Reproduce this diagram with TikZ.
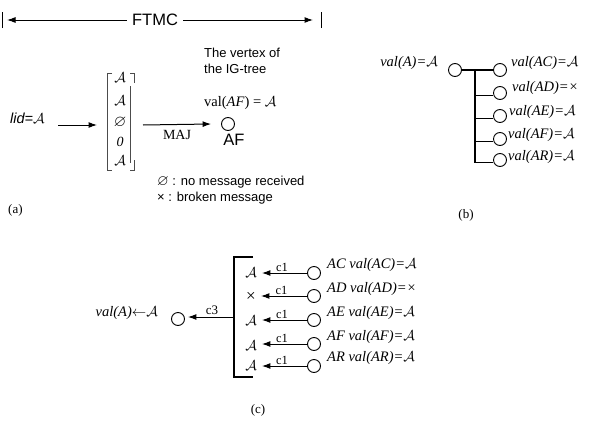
\documentclass[tikz,border=0pt]{standalone}
\usepackage{amssymb}
\usepackage{fontspec}
\setmainfont{Liberation Serif}
\newfontfamily\arialf{Liberation Sans}
\usetikzlibrary{arrows.meta}
\newcommand\calA{\ensuremath{\mathcal{A}}}
\begin{document}
\begin{tikzpicture}[x=1pt,y=-1pt,
  vert/.style={circle,draw,line width=0.9pt,minimum size=13pt,inner sep=0pt},
  arr/.style={-{Latex[length=8.5pt,width=6pt]},line width=1pt},
  sans/.style={font=\arialf\fontsize{13}{15.5}\selectfont,inner sep=0pt},
  lab/.style={font=\fontsize{14.5}{16}\selectfont\itshape,inner sep=0pt,anchor=west},
  rom/.style={font=\fontsize{13}{15}\selectfont,inner sep=0pt},
  ent/.style={font=\fontsize{14}{15}\selectfont,inner sep=0pt},
  brk/.style={line width=0.6pt,black!70},
  tree/.style={line width=1.6pt}]
\useasboundingbox (0,0) rectangle (591,423);

% ---------- (a) ----------
\node[sans,font=\arialf\fontsize{16.5}{18}\selectfont] (ftmc) at (155,20) {FTMC};
\coordinate (fl) at (2,20);
\coordinate (fr) at (321,20);
\draw[line width=0.8pt] ([yshift=-8pt]fl) -- ([yshift=8pt]fl);
\draw[line width=0.8pt] ([yshift=-8pt]fr) -- ([yshift=8pt]fr);
\draw[arr] ([xshift=-5pt]ftmc.west) -- ([xshift=5pt]fl);
\draw[arr] ([xshift=5pt]ftmc.east) -- ([xshift=-8pt]fr);

\node[sans,anchor=west,font=\arialf\itshape\fontsize{14.5}{16}\selectfont] (lid) at (10,118) {lid=\calA};
\coordinate (la) at (58,125);
\coordinate (lb) at (97,125);
\draw[arr] (la) -- (lb);

\node[ent] (m1) at (120,78) {\calA};
\node[ent] (m2) at (120,101) {\calA};
\node[ent,font=\fontsize{16}{16}\selectfont] (m3) at (120,122) {$\varnothing$};
\node[ent] (m4) at (120,142) {\textit{0}};
\node[ent] (m5) at (120,161) {\calA};
\draw[brk] (112,73) -- (107,73) -- (107,170) -- (112,170);
\draw[brk] (130,73) -- (134,73) -- (134,83);
\draw[brk] (130,86) -- (130,163);
\draw[brk] (134,160) -- (134,170) -- (130,170);

\node[vert] (af) at (228,124) {};
\coordinate (ma) at (143,125);
\draw[arr] (ma) -- node[rom,below=5pt,font=\fontsize{14}{16}\selectfont] (maj) {MAJ} ([xshift=-10pt]af.west);
\node[sans,font=\arialf\fontsize{16.5}{18}\selectfont] (aft) at (234,140) {AF};
\node[sans,anchor=north west,align=left] (vtx) at (204,48) {The vertex of\\the IG-tree};
\node[rom,anchor=west,font=\fontsize{14.5}{16}\selectfont] (vaf) at (204,103) {val(\textit{AF}) = \calA};
\node[sans,anchor=west] (lg1) at (157,182) {{\fontsize{15}{15}\selectfont$\varnothing$} : no message received};
\node[sans,anchor=west] (lg2) at (157,198) {× : broken message};
\node[rom,anchor=west] (capa) at (8,210) {(a)};

% ---------- (b) ----------
\node[vert] (r) at (455,70) {};
\node[lab,anchor=east] (rl) at (438,63) {val(A)=\calA};
\node[vert] (b1) at (500,70) {};
\node[vert] (b2) at (500,93) {};
\node[vert] (b3) at (500,116) {};
\node[vert] (b4) at (500,139) {};
\node[vert] (b5) at (500,160) {};
\coordinate (t) at (475,70);
\draw[tree] (r) -- (b1);
\draw[tree] (t) -- (t |- b5.200) -- (b5.200);
\draw[tree] (t |- b2.200) -- (b2.200);
\draw[tree] (t |- b3.200) -- (b3.200);
\draw[tree] (t |- b4.200) -- (b4.200);
\node[lab] (bl1) at (511,63) {val(AC)=\calA};
\node[lab] (bl2) at (512,88) {val(AD)=×};
\node[lab] (bl3) at (509,112) {val(AE)=\calA};
\node[lab] (bl4) at (508,135) {val(AF)=\calA};
\node[lab] (bl5) at (508,157) {val(AR)=\calA};
\node[rom] (capb) at (466,215) {(b)};

% ---------- (c) ----------
\node[vert] (cr) at (178,319) {};
\node[lab,anchor=east] (crl) at (158,313) {val(A)$\leftarrow$\calA};
\draw[line width=2.2pt] (253,257) -- (234,257) -- (234,377) -- (253,377);
\coordinate (bm) at (234,317);
\draw[arr,shorten >=3pt] (bm) -- node[rom,above=2pt,pos=0.45] (c3) {c3} (bm -| cr.east);
\node[ent] (e1) at (251,273) {\calA};
\node[ent,font=\fontsize{17}{17}\selectfont] (e2) at (251,297) {×};
\node[ent] (e3) at (251,321) {\calA};
\node[ent] (e4) at (251,346) {\calA};
\node[ent] (e5) at (251,366) {\calA};
\node[vert] (d1) at (314,273) {};
\node[vert] (d2) at (314,296) {};
\node[vert] (d3) at (314,320) {};
\node[vert] (d4) at (314,344) {};
\node[vert] (d5) at (314,366) {};
\foreach \i in {1,...,5}{
  \draw[arr,shorten >=5pt] (d\i.west) -- node[rom,above=1pt,font=\fontsize{12.5}{14}\selectfont] {c1} (e\i.east |- d\i.west);
}
\node[lab] (dl1) at (327,265) {AC val(AC)=\calA};
\node[lab] (dl2) at (327,289) {AD val(AD)=×};
\node[lab] (dl3) at (327,313) {AE val(AE)=\calA};
\node[lab] (dl4) at (327,337) {AF val(AF)=\calA};
\node[lab] (dl5) at (327,358) {AR val(AR)=\calA};
\node[rom] (capc) at (258,410) {(c)};
\end{tikzpicture}
\end{document}
